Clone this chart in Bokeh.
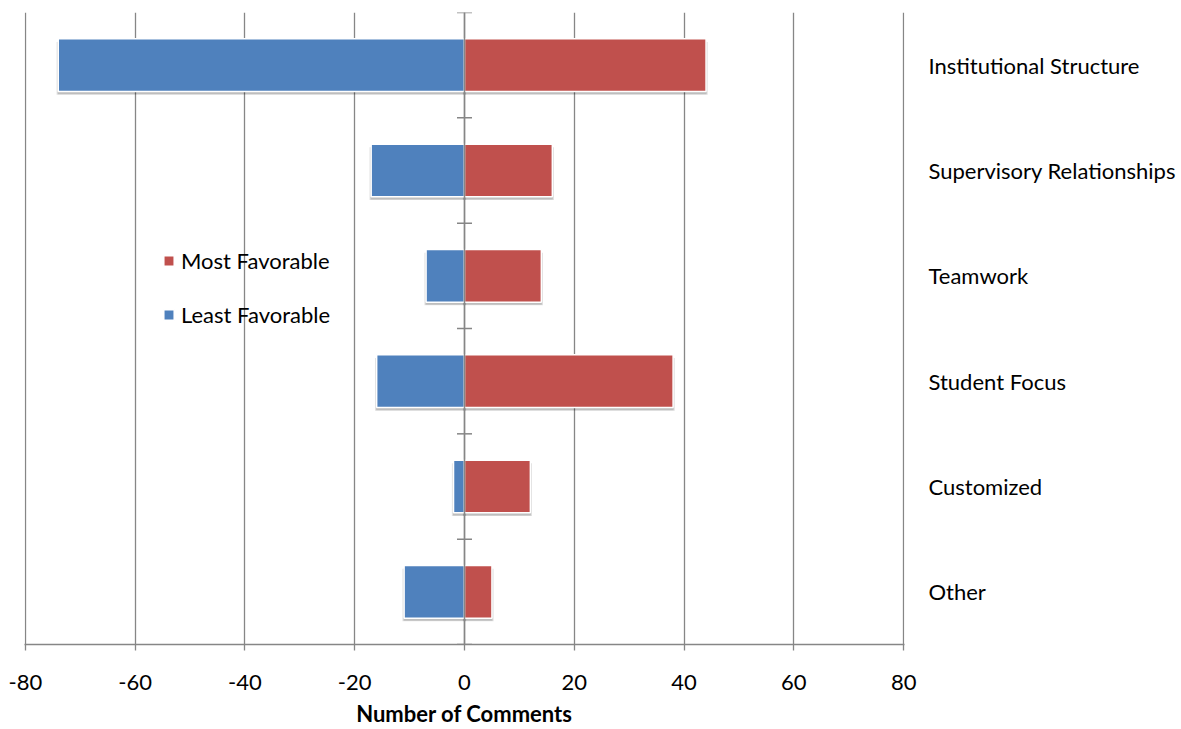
from bokeh.plotting import figure
from bokeh.models import (ColumnDataSource, FactorRange, CategoricalAxis, Span,
                          Legend, LegendItem, FixedTicker)
from bokeh.transform import dodge
from bokeh.embed import file_html
from bokeh.resources import INLINE

# Comment counts per topic (top to bottom as listed)
categories = ["Institutional  Structure", "Supervisory Relationships", "Teamwork",
              "Student Focus", "Customized", "Other"]
most_favorable = [44, 16, 14, 38, 12, 5]
least_favorable = [-74, -17, -7, -16, -2, -11]
x_ticks = [-80, -60, -40, -20, 0, 20, 40, 60, 80]

FONT = "Lato"
GRID = "#868686"
RED = "#C0504D"
BLUE = "#4F81BD"

src = ColumnDataSource(dict(
    cat=categories,
    zero=[0] * len(categories),
    most=most_favorable,
    least=least_favorable,
))

factors = list(reversed(categories))
# a hair of padding keeps the outermost gridlines inside the frame
pad = 0.15
p = figure(width=1181, height=729, output_backend="svg", toolbar_location=None,
           x_range=(x_ticks[0] - pad, x_ticks[-1] + pad),
           y_range=FactorRange(factors=factors),
           min_border_left=24, min_border_right=277, min_border_top=12,
           min_border_bottom=85, y_axis_location=None)
p.outline_line_color = None
p.background_fill_color = "white"

# vertical gridlines every 20 comments
p.xgrid.ticker = FixedTicker(ticks=x_ticks)
p.xgrid.grid_line_color = GRID
p.xgrid.grid_line_width = 1.3
p.ygrid.grid_line_color = None

# bottom value axis
xa = p.xaxis[0]
xa.ticker = FixedTicker(ticks=x_ticks)
xa.major_label_overrides = {t: str(t) for t in x_ticks}
xa.axis_line_color = GRID
xa.axis_line_width = 1.3
xa.major_tick_line_color = GRID
xa.major_tick_line_width = 1.3
xa.major_tick_out = 6
xa.major_tick_in = 0
xa.minor_tick_line_color = None
xa.major_label_standoff = 24
xa.major_label_text_font = FONT
xa.major_label_text_font_size = "22px"
xa.major_label_text_color = "black"
xa.axis_label = "Number of Comments"
xa.axis_label_text_font = FONT
xa.axis_label_text_font_size = "22px"
xa.axis_label_text_font_style = "bold"
xa.axis_label_text_color = "black"
xa.axis_label_standoff = 7

# category names on the right
ya = CategoricalAxis(axis_line_color=None, major_tick_line_color=None,
                     minor_tick_line_color=None, major_tick_out=0, major_tick_in=0,
                     major_label_standoff=24, major_label_text_font=FONT,
                     major_label_text_font_size="22px", major_label_text_color="black")
p.add_layout(ya, "right")

# soft drop shadows under the bars
for lo, hi in (("least", "zero"), ("zero", "most")):
    p.hbar(y=dodge("cat", -0.03, range=p.y_range), left=dodge(lo, -0.3),
           right=dodge(hi, 0.3), height=0.5, source=src,
           fill_color="#000000", fill_alpha=0.12, line_color=None)
    p.hbar(y=dodge("cat", -0.025, range=p.y_range), left=dodge(lo, -0.1),
           right=dodge(hi, 0.1), height=0.5, source=src,
           fill_color="#000000", fill_alpha=0.15, line_color=None)

least_r = p.hbar(y="cat", left="least", right="zero", height=0.5, source=src,
                 fill_color=BLUE, line_color="white", line_width=1.5)
most_r = p.hbar(y="cat", left="zero", right="most", height=0.5, source=src,
                fill_color=RED, line_color="white", line_width=1.5)

# value axis drawn through zero, with ticks at category boundaries
p.add_layout(Span(location=0, dimension="height", line_color=GRID, line_width=1.5))
bounds = ColumnDataSource(dict(x=[0] * (len(categories) + 1),
                               y=list(range(len(categories) + 1))))
p.scatter(x="x", y="y", source=bounds, marker="dash", size=15,
          line_color=GRID, line_width=1.5)

legend = Legend(items=[LegendItem(label="Most Favorable", renderers=[most_r]),
                       LegendItem(label="Least Favorable", renderers=[least_r])],
                location=(138, 316), orientation="vertical",
                glyph_width=13, glyph_height=13, label_height=24, spacing=27,
                padding=0, margin=0, border_line_color=None,
                background_fill_alpha=0, label_text_font=FONT,
                label_text_font_size="22px", label_text_color="black",
                label_standoff=6)
p.add_layout(legend)

open("out.html", "w").write(file_html(p, INLINE))
